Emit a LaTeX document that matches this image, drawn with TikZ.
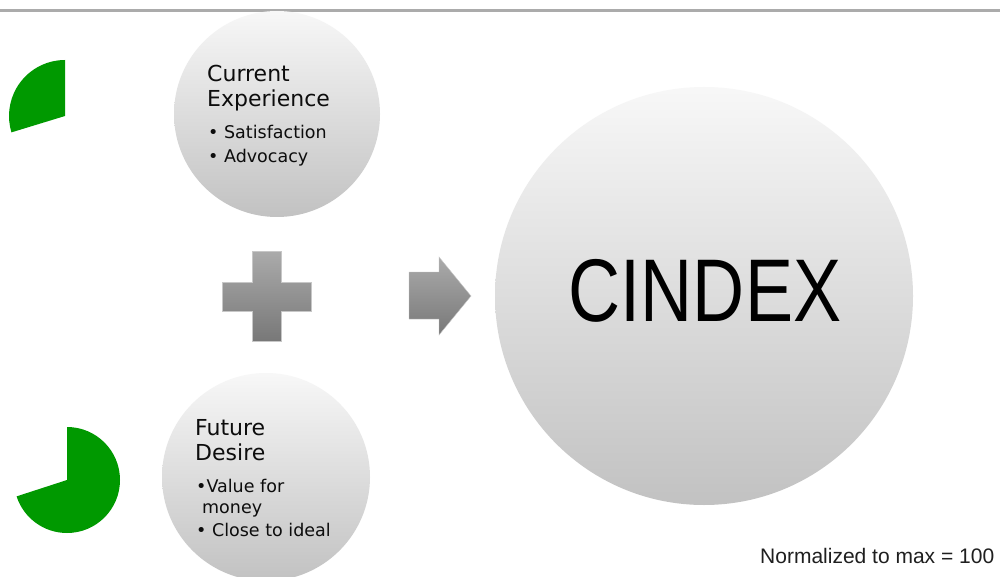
\documentclass[tikz,border=0pt]{standalone}
\usepackage{fontspec}
\setmainfont{Liberation Sans}
\newfontfamily\bodyfont{DejaVu Sans}
\begin{document}
\begin{tikzpicture}[x=1pt,y=-1pt,
  bubble/.style={circle, top color=black!3, bottom color=black!24, inner sep=0pt},
  pie/.style={fill=green!60!black},
  greyshape/.style={top color=black!33, bottom color=black!53, draw=black!22, line width=0.4pt},
  label/.style={anchor=base west, inner sep=0pt, text=black!95},
  title/.style={label, font=\bodyfont\fontsize{22}{22}\selectfont},
  item/.style={label, font=\bodyfont\fontsize{17.5}{17.5}\selectfont}]
\useasboundingbox (0,0) rectangle (1000,577);
\fill[white] (0,0) rectangle (1000,577);

% rule along the top edge
\draw[line width=3.5pt, black!33] (0,10.5) -- (1000,10.5);

% the three circles
\node[bubble, minimum size=206pt] (cur) at (277,114) {};
\node[bubble, minimum size=208pt] (fut) at (266,477) {};
\node[bubble, minimum size=418pt] (cindex) at (704,296) {};

% pie slices
\begin{scope}[shift={(65,116)}, x=1pt, y=1pt]
  \fill[pie] (0,0) -- (90:56) arc[start angle=90, end angle=197, radius=56] -- cycle;
\end{scope}
\begin{scope}[shift={(67,480)}, x=1pt, y=1pt]
  \fill[pie] (0,0) -- (90:53) arc[start angle=90, end angle=-162, radius=53] -- cycle;
\end{scope}

% plus sign
\path[greyshape] (252,251) -- (281,251) -- (281,282) -- (311,282) -- (311,311)
  -- (281,311) -- (281,341) -- (252,341) -- (252,311) -- (222,311) -- (222,282)
  -- (252,282) -- cycle;

% block arrow
\path[greyshape] (409,272) -- (439,272) -- (439,257) -- (471,296) -- (439,335)
  -- (439,319) -- (409,319) -- cycle;

% circle texts
\node[title] (cur1) at (207,82) {Current};
\node[title] (cur2) at (207,107) {Experience};
\node[item] (cur3) at (208,139) {• Satisfaction};
\node[item] (cur4) at (208,163) {• Advocacy};

\node[title] (fut1) at (195,435) {Future};
\node[title] (fut2) at (195,460) {Desire};
\node[item] (fut3) at (196,492) {•Value for};
\node[item] (fut4) at (202,513) {money};
\node[item] (fut5) at (196,536) {• Close to ideal};

\node[inner sep=0pt, font=\fontsize{89}{89}\selectfont] (cindexlabel) at (705,291) {\scalebox{0.81}[1]{CINDEX}};

\node[anchor=base west, inner sep=0pt, font=\fontsize{21}{21}\selectfont, text=black!88] (note) at (760,563) {Normalized to max = 100};
\end{tikzpicture}
\end{document}
